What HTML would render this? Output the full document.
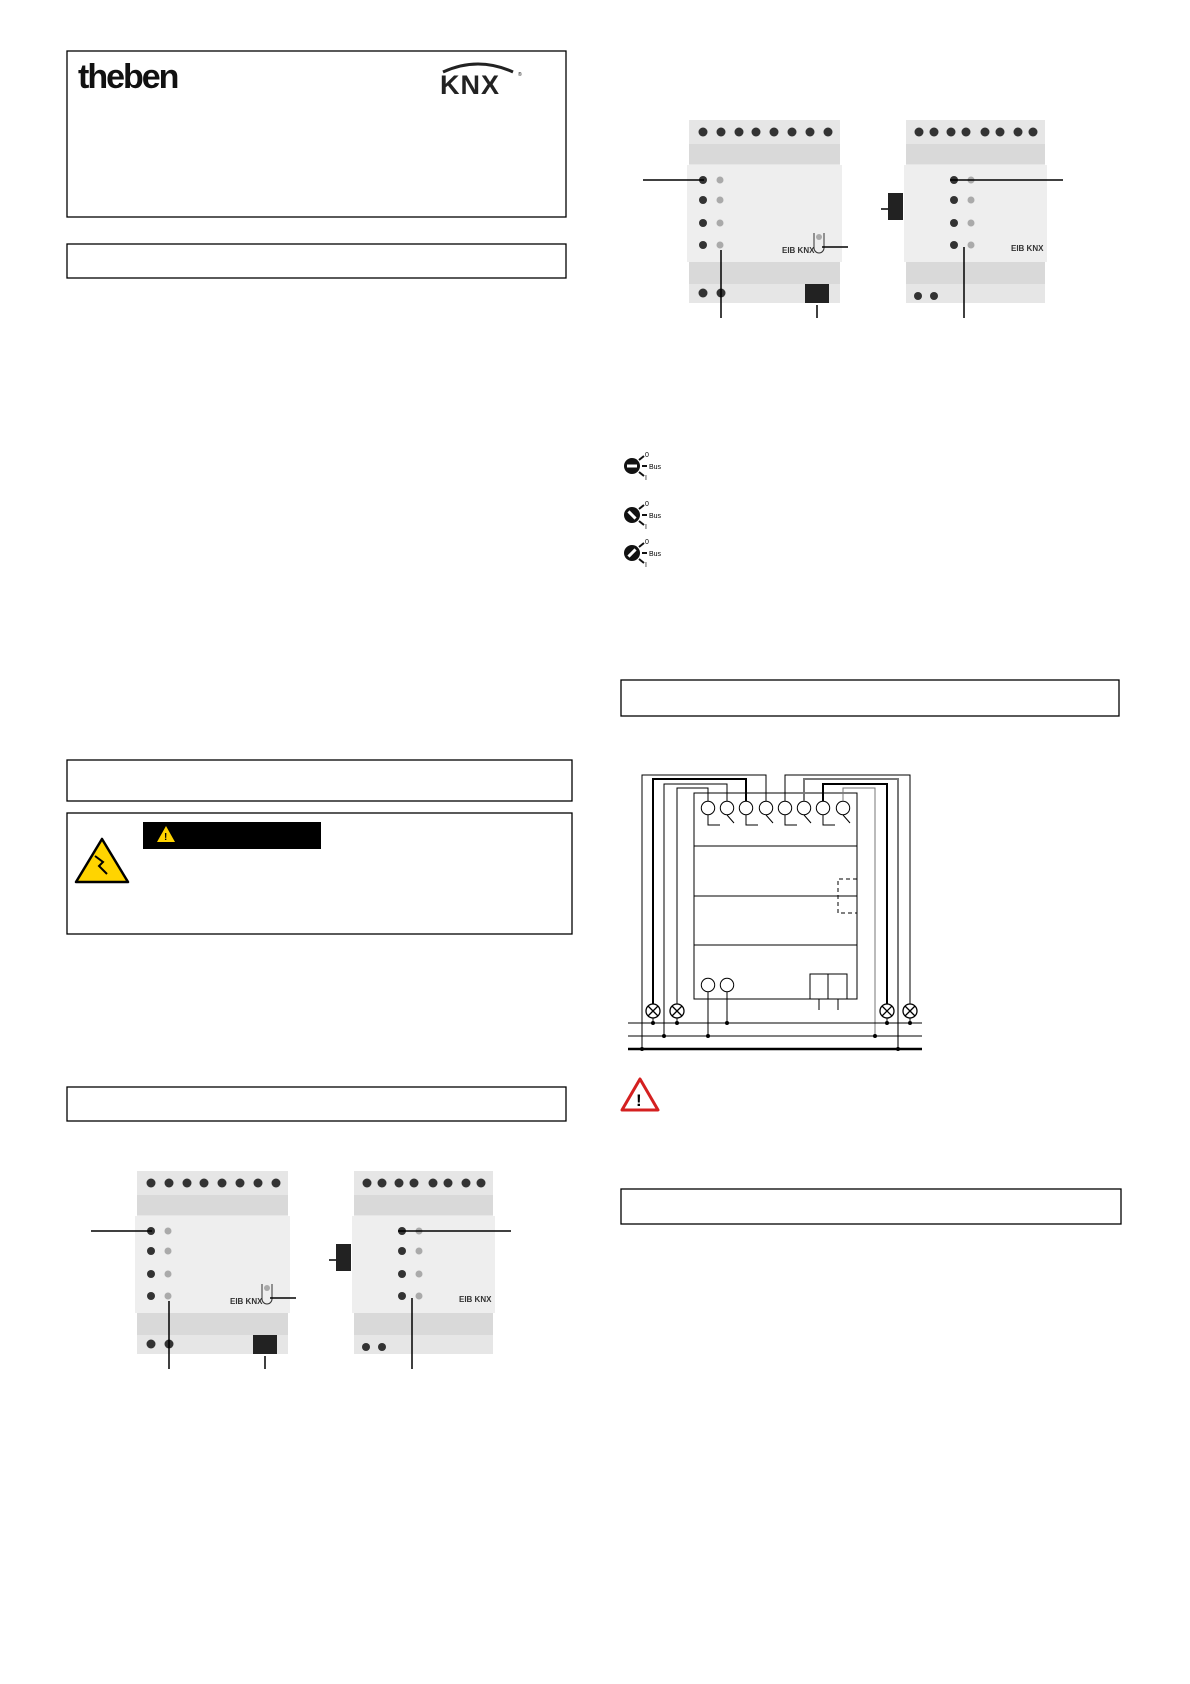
<!DOCTYPE html>
<html><head><meta charset="utf-8"><style>
html,body{margin:0;padding:0;background:#fff;}
svg{display:block;font-family:"Liberation Sans",sans-serif;}
</style></head><body>
<svg width="1190" height="1684" viewBox="0 0 1190 1684" xmlns="http://www.w3.org/2000/svg">
<defs>
<g id="dev1">
  <rect x="0" y="0" width="151" height="183" fill="#e6e6e6"/>
  <rect x="0" y="24" width="151" height="20" fill="#d9d9d9"/>
  <rect x="-2" y="45" width="155" height="97" fill="#eeeeee"/>
  <rect x="0" y="142" width="151" height="22" fill="#d9d9d9"/>
  <g fill="#333"><circle cx="14" cy="12" r="4.5"/><circle cx="32" cy="12" r="4.5"/><circle cx="50" cy="12" r="4.5"/><circle cx="67" cy="12" r="4.5"/><circle cx="85" cy="12" r="4.5"/><circle cx="103" cy="12" r="4.5"/><circle cx="121" cy="12" r="4.5"/><circle cx="139" cy="12" r="4.5"/>
  <circle cx="14" cy="60" r="4"/><circle cx="14" cy="80" r="4"/><circle cx="14" cy="103" r="4"/><circle cx="14" cy="125" r="4"/>
  <circle cx="14" cy="173" r="4.5"/><circle cx="32" cy="173" r="4.5"/></g>
  <g fill="#aaa"><circle cx="31" cy="60" r="3.5"/><circle cx="31" cy="80" r="3.5"/><circle cx="31" cy="103" r="3.5"/><circle cx="31" cy="125" r="3.5"/><circle cx="130" cy="117" r="3"/></g>
  <rect x="116" y="164" width="24" height="19" fill="#222"/>
  <path d="M125 113 v15 a5 5 0 0 0 10 0 v-15" fill="none" stroke="#333" stroke-width="1"/>
  <text x="93" y="133" font-size="8" font-weight="bold" fill="#333">EIB KNX</text>
</g>
<g id="dev2">
  <rect x="0" y="0" width="139" height="183" fill="#e6e6e6"/>
  <rect x="0" y="24" width="139" height="20" fill="#d9d9d9"/>
  <rect x="-2" y="45" width="143" height="97" fill="#eeeeee"/>
  <rect x="0" y="142" width="139" height="22" fill="#d9d9d9"/>
  <g fill="#333"><circle cx="13" cy="12" r="4.5"/><circle cx="28" cy="12" r="4.5"/><circle cx="45" cy="12" r="4.5"/><circle cx="60" cy="12" r="4.5"/><circle cx="79" cy="12" r="4.5"/><circle cx="94" cy="12" r="4.5"/><circle cx="112" cy="12" r="4.5"/><circle cx="127" cy="12" r="4.5"/>
  <circle cx="48" cy="60" r="4"/><circle cx="48" cy="80" r="4"/><circle cx="48" cy="103" r="4"/><circle cx="48" cy="125" r="4"/>
  <circle cx="12" cy="176" r="4"/><circle cx="28" cy="176" r="4"/></g>
  <g fill="#aaa"><circle cx="65" cy="60" r="3.5"/><circle cx="65" cy="80" r="3.5"/><circle cx="65" cy="103" r="3.5"/><circle cx="65" cy="125" r="3.5"/></g>
  <text x="105" y="131" font-size="8" font-weight="bold" fill="#333">EIB KNX</text>
  <rect x="-18" y="73" width="15" height="27" fill="#222"/>
</g>
</defs>

<!-- header -->
<rect x="67" y="51" width="499" height="166" fill="none" stroke="#000" stroke-width="1.3"/>
<text x="78" y="88" font-size="34" font-weight="bold" letter-spacing="-2" fill="#111">theben</text>
<path d="M443 72 Q478 56 513 72" fill="none" stroke="#222" stroke-width="3"/>
<text x="440" y="94" font-size="27" font-weight="bold" letter-spacing="1" fill="#222">KNX</text>
<text x="518" y="76" font-size="5">®</text>

<g fill="none" stroke="#000" stroke-width="1.3">
<rect x="67" y="244" width="499" height="34"/>
<rect x="67" y="760" width="505" height="41"/>
<rect x="67" y="813" width="505" height="121"/>
<rect x="67" y="1087" width="499" height="34"/>
<rect x="621" y="680" width="498" height="36"/>
<rect x="621" y="1189" width="500" height="35"/>
</g>
<rect x="143" y="822" width="178" height="27" fill="#000"/>
<path d="M166 826 L175 842 L157 842 Z" fill="#ffd400"/>
<text x="164" y="840" font-size="10" font-weight="bold">!</text>
<path d="M102 839 L128 882 L76 882 Z" fill="#ffd400" stroke="#000" stroke-width="2.5" stroke-linejoin="round"/>
<path d="M95 856 l8 6 l-4 4 l8 8" fill="none" stroke="#000" stroke-width="2"/>

<!-- devices -->
<use href="#dev1" x="689" y="120"/>
<use href="#dev2" x="906" y="120"/>
<use href="#dev1" x="137" y="1171"/>
<use href="#dev2" x="354" y="1171"/>
<g stroke="#000" stroke-width="1.5">
<line x1="643" y1="180" x2="704" y2="180"/><line x1="721" y1="250" x2="721" y2="318"/><line x1="817" y1="305" x2="817" y2="318"/><line x1="822" y1="247" x2="848" y2="247"/>
<line x1="881" y1="209" x2="888" y2="209"/><line x1="950" y1="180" x2="1063" y2="180"/><line x1="964" y1="247" x2="964" y2="318"/>
<line x1="91" y1="1231" x2="152" y2="1231"/><line x1="169" y1="1301" x2="169" y2="1369"/><line x1="265" y1="1356" x2="265" y2="1369"/><line x1="270" y1="1298" x2="296" y2="1298"/>
<line x1="329" y1="1260" x2="336" y2="1260"/><line x1="398" y1="1231" x2="511" y2="1231"/><line x1="412" y1="1298" x2="412" y2="1369"/>
</g>

<!-- bus icons -->
<g font-size="7">
<g transform="translate(632,466)"><circle r="8" fill="#111"/><rect x="-5" y="-1.5" width="10" height="3" fill="#fff"/><path d="M7 -6 l5 -4 M10 0 h5 M7 6 l5 4" stroke="#111" stroke-width="2"/><text x="17" y="3">Bus</text><text x="13" y="-9">0</text><text x="13" y="14">I</text></g>
<g transform="translate(632,515)"><circle r="8" fill="#111"/><rect x="-5" y="-1.5" width="10" height="3" fill="#fff" transform="rotate(45)"/><path d="M7 -6 l5 -4 M10 0 h5 M7 6 l5 4" stroke="#111" stroke-width="2"/><text x="17" y="3">Bus</text><text x="13" y="-9">0</text><text x="13" y="14">I</text></g>
<g transform="translate(632,553)"><circle r="8" fill="#111"/><rect x="-5" y="-1.5" width="10" height="3" fill="#fff" transform="rotate(-45)"/><path d="M7 -6 l5 -4 M10 0 h5 M7 6 l5 4" stroke="#111" stroke-width="2"/><text x="17" y="3">Bus</text><text x="13" y="-9">0</text><text x="13" y="14">I</text></g>
</g>

<!-- wiring -->
<g fill="none" stroke="#000" stroke-width="1">
<rect x="694" y="793" width="163" height="206"/>
<line x1="694" y1="846" x2="857" y2="846"/><line x1="694" y1="896" x2="857" y2="896"/><line x1="694" y1="945" x2="857" y2="945"/>
<path d="M857 879 h-19 v34 h19" stroke-dasharray="4 3"/>
<circle cx="708" cy="808" r="6.7"/><circle cx="727" cy="808" r="6.7"/><circle cx="746" cy="808" r="6.7"/><circle cx="766" cy="808" r="6.7"/><circle cx="785" cy="808" r="6.7"/><circle cx="804" cy="808" r="6.7"/><circle cx="823" cy="808" r="6.7"/><circle cx="843" cy="808" r="6.7"/>
<path d="M708 815 v10 h12 M727 815 l7 8 M746 815 v10 h12 M766 815 l7 8 M785 815 v10 h12 M804 815 l7 8 M823 815 v10 h12 M843 815 l7 8"/>
<circle cx="708" cy="985" r="6.7"/><circle cx="727" cy="985" r="6.7"/>
<rect x="810" y="974" width="18" height="25"/><rect x="828" y="974" width="19" height="25"/>
<path d="M819 999 v11 M838 999 v11"/>
<path d="M642 1049 V775 H766 V801"/>
<path d="M653 1004 V779 H746 V801" stroke-width="2"/>
<path d="M664 1036 V784 H727 V801"/>
<path d="M677 1004 V788 H708 V801"/>
<path d="M785 801 V775 H910 V1004"/>
<path d="M804 801 V779 H898 V1049" stroke="#777" stroke-width="2"/>
<path d="M823 801 V784 H887 V1004" stroke-width="2"/>
<path d="M843 801 V788 H875 V1036" stroke="#777"/>
<path d="M708 992 V1036 M727 992 V1023"/>
<path d="M628 1023 H922 M628 1036 H922"/>
<path d="M628 1049 H922" stroke-width="2.5"/>
<path d="M653 1018 V1023 M677 1018 V1023 M887 1018 V1023 M910 1018 V1023"/>
</g>
<g fill="#fff" stroke="#000" stroke-width="1.3">
<circle cx="653" cy="1011" r="7"/><circle cx="677" cy="1011" r="7"/><circle cx="887" cy="1011" r="7"/><circle cx="910" cy="1011" r="7"/>
</g>
<g stroke="#000" stroke-width="1.3">
<path d="M648 1006 l10 10 M658 1006 l-10 10 M672 1006 l10 10 M682 1006 l-10 10 M882 1006 l10 10 M892 1006 l-10 10 M905 1006 l10 10 M915 1006 l-10 10"/>
</g>
<g fill="#000"><circle cx="653" cy="1023" r="2"/><circle cx="677" cy="1023" r="2"/><circle cx="727" cy="1023" r="2"/><circle cx="887" cy="1023" r="2"/><circle cx="910" cy="1023" r="2"/><circle cx="664" cy="1036" r="2"/><circle cx="708" cy="1036" r="2"/><circle cx="875" cy="1036" r="2"/><circle cx="642" cy="1049" r="2"/><circle cx="898" cy="1049" r="2"/></g>

<path d="M640 1079 L658 1110 L622 1110 Z" fill="#fff" stroke="#d42020" stroke-width="3" stroke-linejoin="round"/>
<text x="636" y="1106" font-size="17" font-weight="bold">!</text>
</svg>
</body></html>
